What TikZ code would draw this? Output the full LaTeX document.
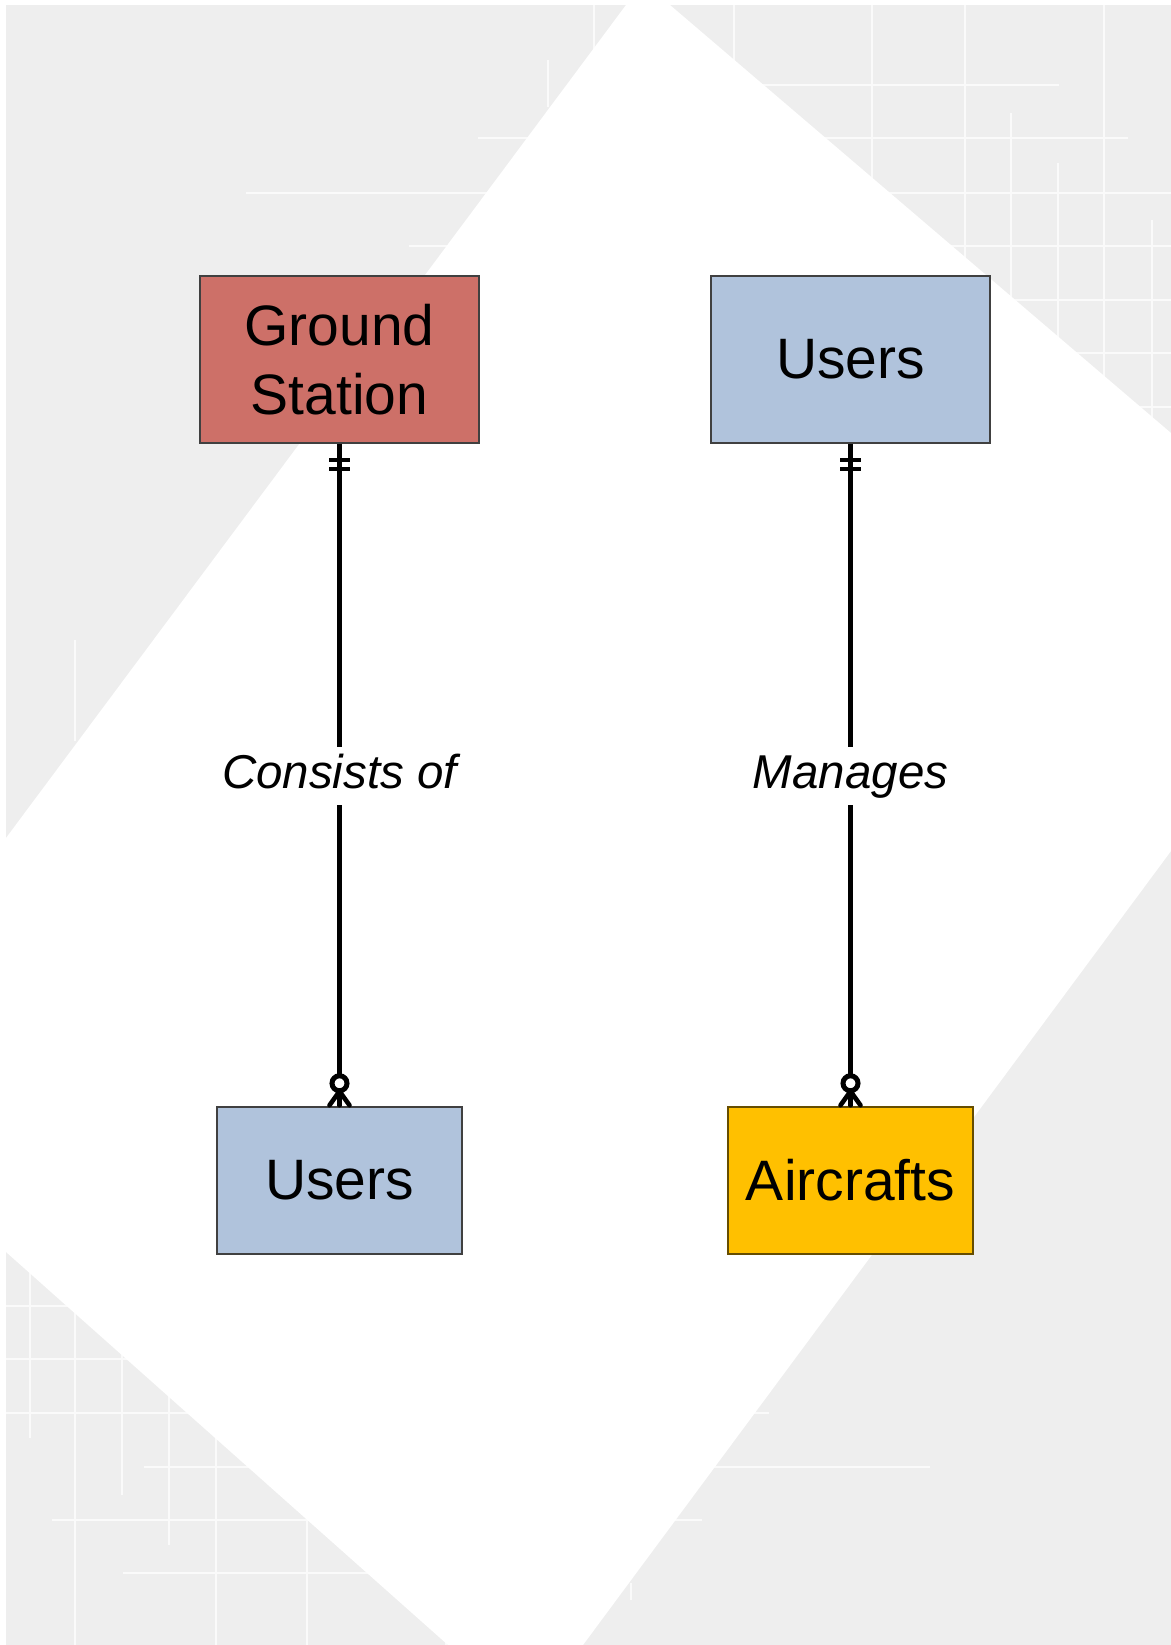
\documentclass[tikz,border=0pt]{standalone}
\usepackage{fontspec}
\setmainfont{Liberation Sans}
\usetikzlibrary{calc}

\definecolor{pagegrey}{HTML}{EEEEEE}
\definecolor{stationred}{HTML}{CD7068}
\definecolor{userblue}{HTML}{B0C3DC}
\definecolor{craftamber}{HTML}{FFC000}
\definecolor{boxedge}{HTML}{404040}
\definecolor{gridwhite}{HTML}{FAFAFA}

\tikzset{
  gridline/.style={draw=gridwhite, line width=0.55pt},
  entity/.style={draw=boxedge, line width=0.75pt, align=center, inner sep=0pt,
                 font=\fontsize{28.5pt}{34.2pt}\selectfont},
  bigbox/.style={entity, minimum width=139.5pt, minimum height=83.5pt},
  smallbox/.style={entity, minimum width=122.5pt, minimum height=73.5pt},
  rellabel/.style={inner sep=0pt, text height=17pt, text depth=5pt,
                   minimum height=29pt, minimum width=10pt,
                   font=\fontsize{23.75pt}{28pt}\selectfont\itshape},
  relline/.style={line width=2.5pt},
  barmark/.style={line width=2pt},
  footmark/.style={line width=2.3pt, line cap=round},
}

\begin{document}
\begin{tikzpicture}[x=0.5pt, y=-0.5pt]
  \useasboundingbox (0,0) rectangle (1171,1645);

  % paper background with its faint grid
  \fill[white] (0,0) rectangle (1171,1645);
  \fill[pagegrey] (6,5) rectangle (1171,1645);
  \foreach \yy/\xa/\xb in {85/700/1059, 138/478/1128, 193/246/1171, 246/409/1171,
                           300/700/1171, 353/800/1171, 407/900/1171,
                           1306/6/100, 1359/6/150, 1413/6/769, 1467/144/930,
                           1520/52/702, 1573/123/373}
    \draw[gridline] (\xa,\yy) -- (\xb,\yy);
  \foreach \xx/\ya/\yb in {548/60/107, 594/5/127, 734/5/300, 872/5/440, 965/5/440,
                           1011/113/440, 1058/163/440, 1104/5/440, 1152/220/440,
                           75/640/741,
                           30/1253/1438, 75/1253/1645, 122/1310/1495, 169/1393/1545,
                           216/1433/1645, 307/1517/1645, 446/1600/1645, 631/1583/1600}
    \draw[gridline] (\xx,\ya) -- (\xx,\yb);

  % white tilted panel
  \fill[white] (626,5) -- (670,5) -- (1171,433) -- (1171,851) -- (583,1645)
               -- (448,1645) -- (6,1252) -- (6,838) -- cycle;

  % entities
  \node[bigbox, fill=stationred] (gs) at (339.5,359.5) {Ground\\Station};
  \node[bigbox, fill=userblue] (usrtop) at (850.5,359.5) {Users};
  \node[smallbox, fill=userblue] (usrbot) at (339.5,1180.5) {Users};
  \node[smallbox, fill=craftamber, draw=black!60!craftamber] (craft) at (850.5,1180.5) {Aircrafts};

  % relationship labels
  \node[rellabel] (consists) at (339.5,776) {Consists of};
  \node[rellabel] (manages) at (850.5,776) {Manages};

  % relationship lines
  \draw[relline] (gs.south) -- (consists.north);
  \draw[relline] (consists.south) -- ($(usrbot.north)+(0,-30.5)$);
  \draw[relline] (usrtop.south) -- (manages.north);
  \draw[relline] (manages.south) -- ($(craft.north)+(0,-30.5)$);

  % exactly-one marks
  \foreach \src in {gs, usrtop} {
    \draw[barmark] ($(\src.south)+(-10.5,16)$) -- ++(21,0);
    \draw[barmark] ($(\src.south)+(-10.5,25)$) -- ++(21,0);
  }

  % zero-or-many marks
  \foreach \dst in {usrbot, craft} {
    \draw[line width=2.5pt] ($(\dst.north)+(0,-23)$) circle[radius=3.75pt];
    \draw[footmark] ($(\dst.north)+(0,-15)$) -- ($(\dst.north)+(-10,-1)$);
    \draw[footmark] ($(\dst.north)+(0,-15)$) -- ($(\dst.north)+(0,-1)$);
    \draw[footmark] ($(\dst.north)+(0,-15)$) -- ($(\dst.north)+(10,-1)$);
  }
\end{tikzpicture}
\end{document}
